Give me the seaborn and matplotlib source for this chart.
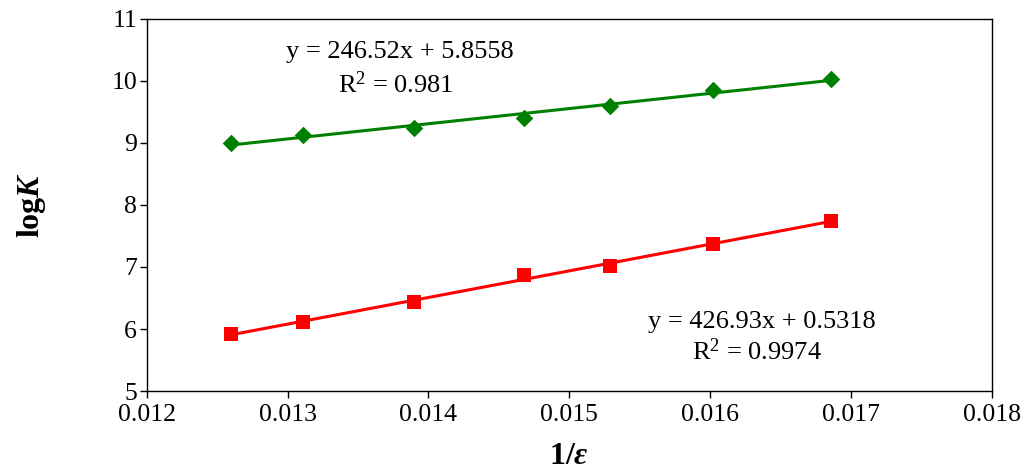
import matplotlib
matplotlib.use("Agg")
import matplotlib.pyplot as plt
import numpy as np
import pandas as pd
import seaborn as sns

# data
inv_eps = [0.01260, 0.01311, 0.01390, 0.01468, 0.01529, 0.01602, 0.01686]
logk_green = [9.00, 9.13, 9.24, 9.40, 9.60, 9.85, 10.03]
logk_red = [5.92, 6.11, 6.44, 6.87, 7.02, 7.37, 7.74]
eq_green = ["y = 246.52x + 5.8558", "R$^2$ = 0.981"]
eq_red = ["y = 426.93x + 0.5318", "R$^2$ = 0.9974"]
x_ticks = [0.012, 0.013, 0.014, 0.015, 0.016, 0.017, 0.018]
y_ticks = [5, 6, 7, 8, 9, 10, 11]

df = pd.DataFrame({"inv_eps": inv_eps, "green": logk_green, "red": logk_red})

sns.set_style("ticks", {"text.color": "black", "axes.labelcolor": "black",
                        "xtick.color": "black", "ytick.color": "black",
                        "axes.edgecolor": "black"})
plt.rcParams["font.family"] = ["Liberation Serif", "DejaVu Serif"]
plt.rcParams["mathtext.fontset"] = "custom"
plt.rcParams["mathtext.rm"] = "Liberation Serif"
plt.rcParams["mathtext.it"] = "Liberation Serif:italic"
plt.rcParams["mathtext.bf"] = "Liberation Serif:bold"
plt.rcParams["mathtext.bfit"] = "Liberation Serif:bold:italic"

fig = plt.figure(figsize=(10.35, 4.70), dpi=100)
ax = fig.add_axes([0.142, 0.168, 0.816, 0.792])

sns.regplot(data=df, x="inv_eps", y="green", ax=ax, ci=None, truncate=True,
            marker="D", color="#008000",
            scatter_kws={"s": 80, "linewidths": 0, "alpha": 1},
            line_kws={"lw": 2.2})
sns.regplot(data=df, x="inv_eps", y="red", ax=ax, ci=None, truncate=True,
            marker="s", color="#ff0000",
            scatter_kws={"s": 95, "linewidths": 0, "alpha": 1},
            line_kws={"lw": 2.2})

ax.set_xlim(0.012, 0.018)
ax.set_ylim(5, 11)
ax.set_xticks(x_ticks)
ax.set_xticklabels([f"{t:.3f}" for t in x_ticks])
ax.set_yticks(y_ticks)
ax.tick_params(labelsize=18.5, length=5, width=1, direction="out",
               top=False, right=False, colors="black")
ax.tick_params(axis="x", pad=4)
ax.tick_params(axis="y", pad=2)
for s in ax.spines.values():
    s.set_linewidth(1)
    s.set_color("black")

ax.set_xlabel(r"$\mathbf{1/}\mathbfit{ε}$", fontsize=23, labelpad=12, color="black")
ax.set_ylabel(r"$\mathbf{log}\mathbfit{K}$", fontsize=23, labelpad=46, color="black")

ax.text(0.300, 0.911, eq_green[0], transform=ax.transAxes, ha="center", va="center", fontsize=19, color="black")
ax.text(0.295, 0.823, eq_green[1], transform=ax.transAxes, ha="center", va="center", fontsize=19, color="black")
ax.text(0.728, 0.185, eq_red[0], transform=ax.transAxes, ha="center", va="center", fontsize=19, color="black")
ax.text(0.722, 0.105, eq_red[1], transform=ax.transAxes, ha="center", va="center", fontsize=19, color="black")

fig.savefig("out.png", dpi=100)
